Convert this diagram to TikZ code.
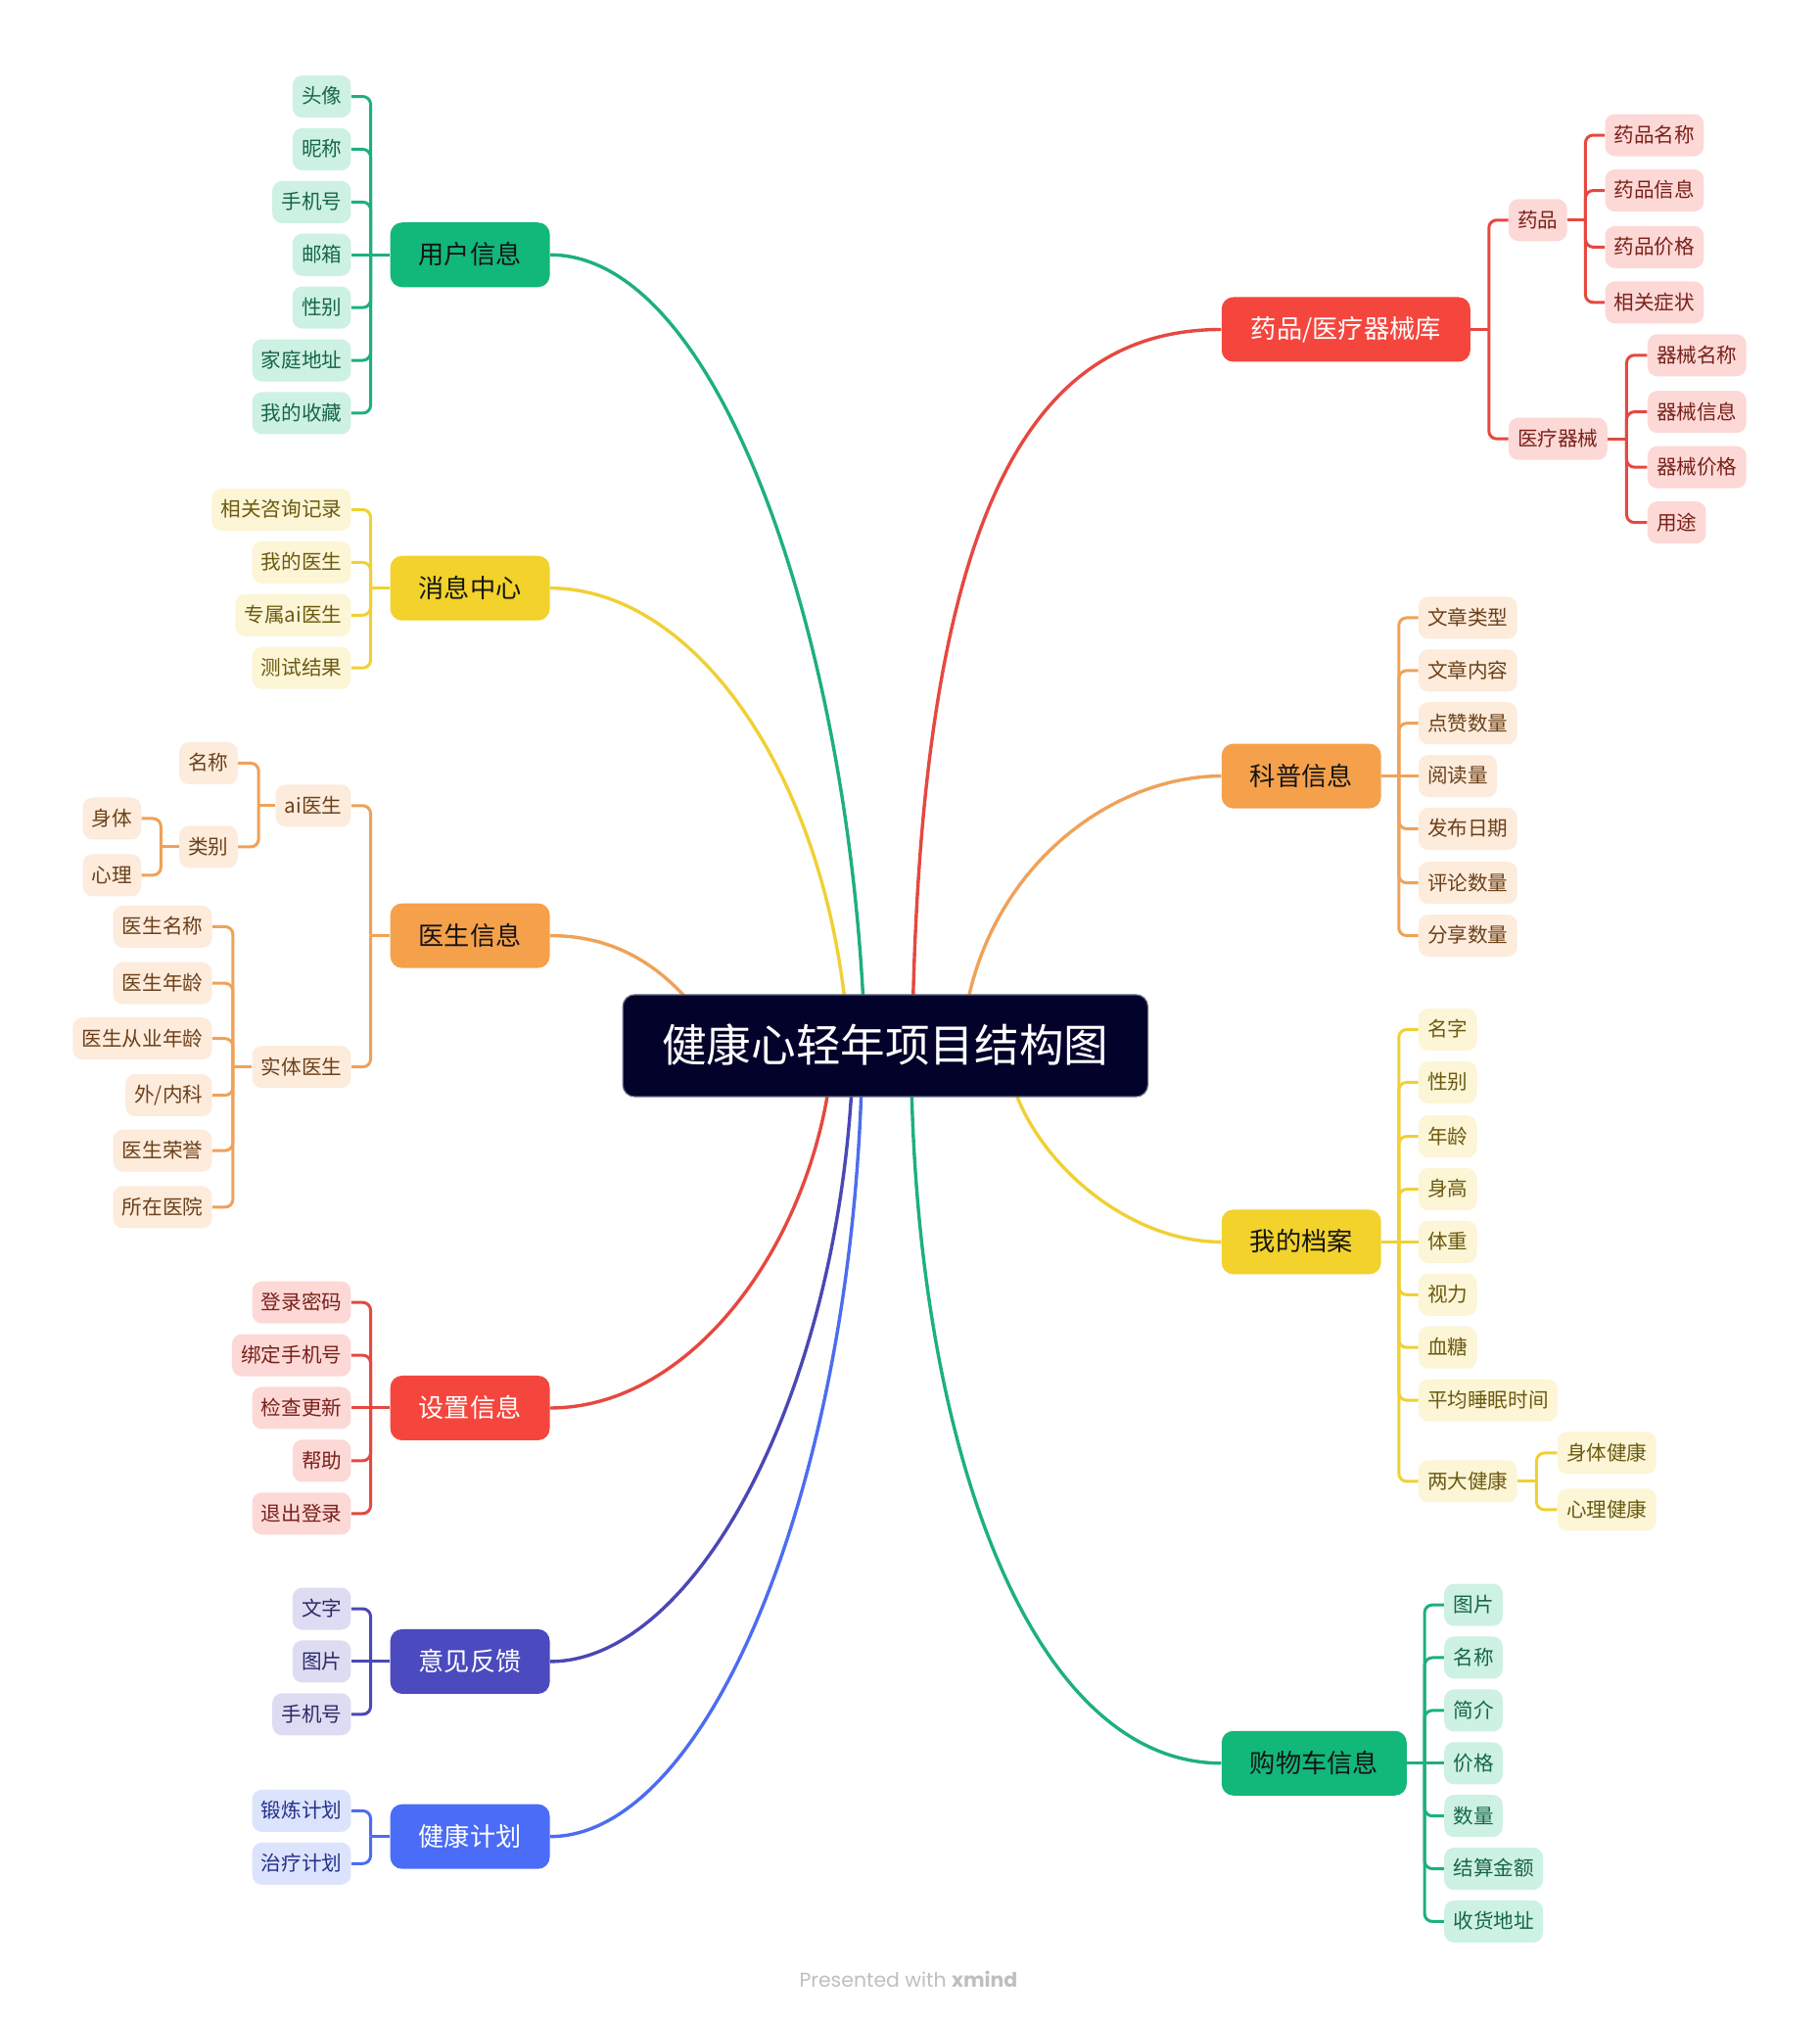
\documentclass[tikz,border=0pt]{standalone}
\usepackage{fontspec}
\newfontfamily\cjk{Noto Sans CJK SC}
\newfontfamily\pop{Poppins}
\usetikzlibrary{calc}
\pgfdeclarelayer{bgfill}
\pgfdeclarelayer{bg}
\pgfsetlayers{bgfill,bg,main}
\definecolor{gMain}{HTML}{12B77A}\definecolor{gLeaf}{HTML}{CDF1E3}\definecolor{gText}{HTML}{17664A}\definecolor{gLine}{HTML}{1DB07D}
\definecolor{yMain}{HTML}{F2D22B}\definecolor{yLeaf}{HTML}{FCF5D6}\definecolor{yText}{HTML}{6B5A10}\definecolor{yLine}{HTML}{F0D034}
\definecolor{oMain}{HTML}{F5A04B}\definecolor{oLeaf}{HTML}{FDEBDC}\definecolor{oText}{HTML}{6C4119}\definecolor{oLine}{HTML}{EFA258}
\definecolor{rMain}{HTML}{F5463E}\definecolor{rLeaf}{HTML}{FCD9D6}\definecolor{rText}{HTML}{7A211B}\definecolor{rLine}{HTML}{E64840}
\definecolor{pMain}{HTML}{4B4ABE}\definecolor{pLeaf}{HTML}{DDDCF2}\definecolor{pText}{HTML}{2C2B68}\definecolor{pLine}{HTML}{4A48B5}
\definecolor{bMain}{HTML}{4A6CF7}\definecolor{bLeaf}{HTML}{DCE3FC}\definecolor{bText}{HTML}{24308A}\definecolor{bLine}{HTML}{4C6DF0}
\definecolor{rootC}{HTML}{02022B}\definecolor{darkT}{HTML}{151515}
\begin{document}
\begin{tikzpicture}[x=0.657pt,y=-0.657pt,
  leaf/.style={font=\cjk\fontsize{10.3}{12}\selectfont, rounded corners=5pt, inner xsep=4.6pt, inner ysep=0pt, minimum height=21.5pt, text height=8.8pt, text depth=1.4pt},
  mainN/.style={font=\cjk\fontsize{13.1}{15}\selectfont, rounded corners=6pt, inner xsep=14.5pt, inner ysep=0pt, minimum height=33pt, text height=11.3pt, text depth=1.8pt, anchor=west},
  lG/.style={leaf, fill=gLeaf, text=gText}, lY/.style={leaf, fill=yLeaf, text=yText},
  lO/.style={leaf, fill=oLeaf, text=oText}, lR/.style={leaf, fill=rLeaf, text=rText},
  lP/.style={leaf, fill=pLeaf, text=pText}, lB/.style={leaf, fill=bLeaf, text=bText},
  cG/.style={draw=gLine, line width=1.5pt, rounded corners=4pt}, cY/.style={draw=yLine, line width=1.5pt, rounded corners=4pt},
  cO/.style={draw=oLine, line width=1.5pt, rounded corners=4pt}, cR/.style={draw=rLine, line width=1.5pt, rounded corners=4pt},
  cP/.style={draw=pLine, line width=1.5pt, rounded corners=4pt}, cB/.style={draw=bLine, line width=1.5pt, rounded corners=4pt},
  kG/.style={draw=gLine, line width=1.7pt}, kY/.style={draw=yLine, line width=1.7pt}, kO/.style={draw=oLine, line width=1.7pt},
  kR/.style={draw=rLine, line width=1.7pt}, kP/.style={draw=pLine, line width=1.7pt}, kB/.style={draw=bLine, line width=1.7pt}]
\useasboundingbox (0,0) rectangle (1414,1568);
\begin{pgfonlayer}{bgfill}
\fill[white] (0,0) rectangle (1414,1568);
\end{pgfonlayer}

% root
\node[font=\cjk\fontsize{22.8}{26}\selectfont, fill=rootC, draw=rootC!60!white, line width=0.6pt, text=white, rounded corners=6pt,
  minimum width=268pt, minimum height=52pt, inner ysep=0pt, text height=19.8pt, text depth=3pt] (root) at (688,812.5) {健康心轻年项目结构图};

% ---------- 用户信息 ----------
\node[mainN, fill=gMain, text=darkT] (uinfo) at (303,198) {用户信息};
\coordinate (uS) at (288,198);
\node[lG, anchor=east] (u1) at (273,75) {头像};
\node[lG, anchor=east] (u2) at (273,116) {昵称};
\node[lG, anchor=east] (u3) at (273,157) {手机号};
\node[lG, anchor=east] (u4) at (273,198) {邮箱};
\node[lG, anchor=east] (u5) at (273,239) {性别};
\node[lG, anchor=east] (u6) at (273,280) {家庭地址};
\node[lG, anchor=east] (u7) at (273,321) {我的收藏};
\draw[cG] (uinfo.west) -- (uS);
\foreach \n in {u1,u2,u3,u5,u6,u7} \draw[cG] (uS) |- (\n.east);
\draw[cG] (uS) -- (u4.east);

% ---------- 消息中心 ----------
\node[mainN, fill=yMain, text=darkT] (msg) at (303,457) {消息中心};
\coordinate (mS) at (288,457);
\node[lY, anchor=east] (m1) at (273,396) {相关咨询记录};
\node[lY, anchor=east] (m2) at (273,437) {我的医生};
\node[lY, anchor=east] (m3) at (273,478) {专属ai医生};
\node[lY, anchor=east] (m4) at (273,519) {测试结果};
\draw[cY] (msg.west) -- (mS);
\foreach \n in {m1,m2,m3,m4} \draw[cY] (mS) |- (\n.east);

% ---------- 医生信息 ----------
\node[mainN, fill=oMain, text=darkT] (doc) at (303,727) {医生信息};
\coordinate (dS) at (288,727);
\node[lO, anchor=east] (d1) at (273,626) {ai医生};
\node[lO, anchor=east] (d2) at (273,829) {实体医生};
\draw[cO] (doc.west) -- (dS);
\foreach \n in {d1,d2} \draw[cO] (dS) |- (\n.east);
\coordinate (d1S) at (201,626);
\node[lO, anchor=east] (d11) at (185,593) {名称};
\node[lO, anchor=east] (d12) at (185,658) {类别};
\draw[cO] (d1.west) -- (d1S);
\foreach \n in {d11,d12} \draw[cO] (d1S) |- (\n.east);
\coordinate (d12S) at (125,658);
\node[lO, anchor=east] (d121) at (110,636) {身体};
\node[lO, anchor=east] (d122) at (110,680) {心理};
\draw[cO] (d12.west) -- (d12S);
\foreach \n in {d121,d122} \draw[cO] (d12S) |- (\n.east);
\coordinate (d2S) at (181,829);
\node[lO, anchor=east] (d21) at (165,720) {医生名称};
\node[lO, anchor=east] (d22) at (165,764) {医生年龄};
\node[lO, anchor=east] (d23) at (165,807) {医生从业年龄};
\node[lO, anchor=east] (d24) at (165,851) {外/内科};
\node[lO, anchor=east] (d25) at (165,894) {医生荣誉};
\node[lO, anchor=east] (d26) at (165,938) {所在医院};
\draw[cO] (d2.west) -- (d2S);
\foreach \n in {d21,d22,d23,d24,d25,d26} \draw[cO] (d2S) |- (\n.east);

% ---------- 设置信息 ----------
\node[mainN, fill=rMain, text=white] (set) at (303,1094) {设置信息};
\coordinate (sS) at (288,1094);
\node[lR, anchor=east] (s1) at (273,1012) {登录密码};
\node[lR, anchor=east] (s2) at (273,1053) {绑定手机号};
\node[lR, anchor=east] (s3) at (273,1094) {检查更新};
\node[lR, anchor=east] (s4) at (273,1135) {帮助};
\node[lR, anchor=east] (s5) at (273,1176) {退出登录};
\draw[cR] (set.west) -- (sS);
\foreach \n in {s1,s2,s4,s5} \draw[cR] (sS) |- (\n.east);
\draw[cR] (sS) -- (s3.east);

% ---------- 意见反馈 ----------
\node[mainN, fill=pMain, text=white] (fb) at (303,1291) {意见反馈};
\coordinate (fS) at (288,1291);
\node[lP, anchor=east] (f1) at (273,1250) {文字};
\node[lP, anchor=east] (f2) at (273,1291) {图片};
\node[lP, anchor=east] (f3) at (273,1332) {手机号};
\draw[cP] (fb.west) -- (fS);
\foreach \n in {f1,f3} \draw[cP] (fS) |- (\n.east);
\draw[cP] (fS) -- (f2.east);

% ---------- 健康计划 ----------
\node[mainN, fill=bMain, text=white] (plan) at (303,1427) {健康计划};
\coordinate (pS) at (288,1427);
\node[lB, anchor=east] (p1) at (273,1407) {锻炼计划};
\node[lB, anchor=east] (p2) at (273,1448) {治疗计划};
\draw[cB] (plan.west) -- (pS);
\foreach \n in {p1,p2} \draw[cB] (pS) |- (\n.east);

% ---------- 药品/医疗器械库 ----------
\node[mainN, fill=rMain, text=white, minimum width=127pt] (lib) at (949,256) {药品/医疗器械库};
\coordinate (libS) at (1157,256);
\node[lR, anchor=west] (l1) at (1172,171) {药品};
\node[lR, anchor=west] (l2) at (1172,341) {医疗器械};
\draw[cR] (lib.east) -- (libS);
\foreach \n in {l1,l2} \draw[cR] (libS) |- (\n.west);
\coordinate (l1S) at (1232,171);
\node[lR, anchor=west] (l11) at (1247,105) {药品名称};
\node[lR, anchor=west] (l12) at (1247,148) {药品信息};
\node[lR, anchor=west] (l13) at (1247,192) {药品价格};
\node[lR, anchor=west] (l14) at (1247,235) {相关症状};
\draw[cR] (l1.east) -- (l1S);
\foreach \n in {l11,l12,l13,l14} \draw[cR] (l1S) |- (\n.west);
\coordinate (l2S) at (1264,341);
\node[lR, anchor=west] (l21) at (1280,276) {器械名称};
\node[lR, anchor=west] (l22) at (1280,320) {器械信息};
\node[lR, anchor=west] (l23) at (1280,363) {器械价格};
\node[lR, anchor=west] (l24) at (1280,406) {用途};
\draw[cR] (l2.east) -- (l2S);
\foreach \n in {l21,l22,l23,l24} \draw[cR] (l2S) |- (\n.west);

% ---------- 科普信息 ----------
\node[mainN, fill=oMain, text=darkT] (sci) at (949,603) {科普信息};
\coordinate (sciS) at (1087,603);
\node[lO, anchor=west] (k1) at (1102,480) {文章类型};
\node[lO, anchor=west] (k2) at (1102,521) {文章内容};
\node[lO, anchor=west] (k3) at (1102,562) {点赞数量};
\node[lO, anchor=west] (k4) at (1102,603) {阅读量};
\node[lO, anchor=west] (k5) at (1102,644) {发布日期};
\node[lO, anchor=west] (k6) at (1102,686) {评论数量};
\node[lO, anchor=west] (k7) at (1102,727) {分享数量};
\draw[cO] (sci.east) -- (sciS);
\foreach \n in {k1,k2,k3,k5,k6,k7} \draw[cO] (sciS) |- (\n.west);
\draw[cO] (sciS) -- (k4.west);

% ---------- 我的档案 ----------
\node[mainN, fill=yMain, text=darkT] (prof) at (949,965) {我的档案};
\coordinate (profS) at (1087,965);
\node[lY, anchor=west] (a1) at (1102,800) {名字};
\node[lY, anchor=west] (a2) at (1102,841) {性别};
\node[lY, anchor=west] (a3) at (1102,883) {年龄};
\node[lY, anchor=west] (a4) at (1102,924) {身高};
\node[lY, anchor=west] (a5) at (1102,965) {体重};
\node[lY, anchor=west] (a6) at (1102,1006) {视力};
\node[lY, anchor=west] (a7) at (1102,1047) {血糖};
\node[lY, anchor=west] (a8) at (1102,1088) {平均睡眠时间};
\node[lY, anchor=west] (a9) at (1102,1151) {两大健康};
\draw[cY] (prof.east) -- (profS);
\foreach \n in {a1,a2,a3,a4,a6,a7,a8,a9} \draw[cY] (profS) |- (\n.west);
\draw[cY] (profS) -- (a5.west);
\coordinate (a9S) at (1194,1151);
\node[lY, anchor=west] (a91) at (1210,1129) {身体健康};
\node[lY, anchor=west] (a92) at (1210,1173) {心理健康};
\draw[cY] (a9.east) -- (a9S);
\foreach \n in {a91,a92} \draw[cY] (a9S) |- (\n.west);

% ---------- 购物车信息 ----------
\node[mainN, fill=gMain, text=darkT] (cart) at (949,1370) {购物车信息};
\coordinate (cartS) at (1107,1370);
\node[lG, anchor=west] (c1) at (1122,1247) {图片};
\node[lG, anchor=west] (c2) at (1122,1288) {名称};
\node[lG, anchor=west] (c3) at (1122,1329) {简介};
\node[lG, anchor=west] (c4) at (1122,1370) {价格};
\node[lG, anchor=west] (c5) at (1122,1411) {数量};
\node[lG, anchor=west] (c6) at (1122,1452) {结算金额};
\node[lG, anchor=west] (c7) at (1122,1493) {收货地址};
\draw[cG] (cart.east) -- (cartS);
\foreach \n in {c1,c2,c3,c5,c6,c7} \draw[cG] (cartS) |- (\n.west);
\draw[cG] (cartS) -- (c4.west);

% ---------- main curves ----------
\coordinate (e1) at (672,805);
\coordinate (e2) at (659,805);
\coordinate (e3) at (556,805);
\coordinate (e4) at (647,820);
\coordinate (e5) at (663,820);
\coordinate (e6) at (670,820);
\coordinate (e7) at (709,805);
\coordinate (e8) at (748,805);
\coordinate (e9) at (782,820);
\coordinate (e10) at (708,820);
\begin{pgfonlayer}{bg}
\draw[kG] (uinfo.east) .. controls +(133,0) and +(-10,-300) .. (e1);
\draw[kY] (msg.east) .. controls +(113,0) and +(-14,-200) .. (e2);
\draw[kO] (doc.east) .. controls +(60,0) and +(-30,-45) .. (e3);
\draw[kR] (set.east) .. controls +(113,0) and +(-12,140) .. (e4);
\draw[kP] (fb.east) .. controls +(113,0) and +(-8,260) .. (e5);
\draw[kB] (plan.east) .. controls +(123,0) and +(-5,330) .. (e6);
\draw[kR] (lib.west) .. controls +(-149,0) and +(6,-405) .. (e7);
\draw[kO] (sci.west) .. controls +(-89,0) and +(12,-125) .. (e8);
\draw[kY] (prof.west) .. controls +(-80,0) and +(8,70) .. (e9);
\draw[kG] (cart.west) .. controls +(-149,0) and +(2,300) .. (e10);
\end{pgfonlayer}

\node[font=\pop\fontsize{10.2}{12}\selectfont, text=black!25] (credit) at (706,1538) {Presented with \textbf{xmind}};
\end{tikzpicture}
\end{document}
